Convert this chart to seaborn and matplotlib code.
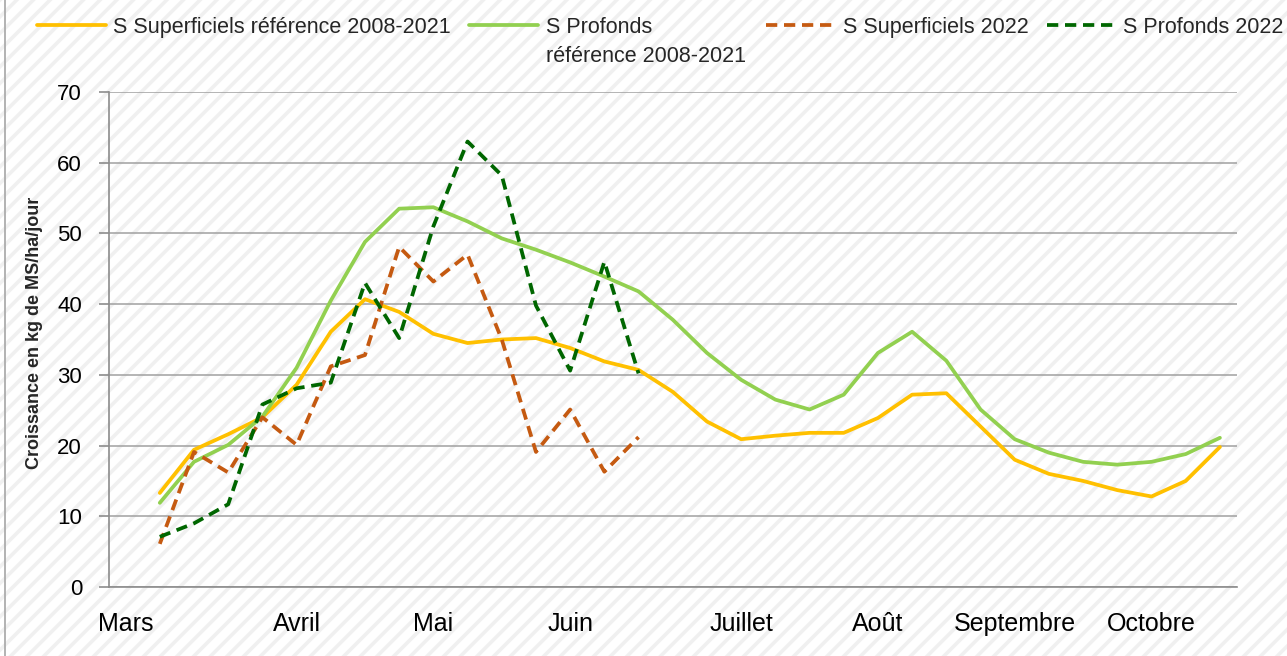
import numpy as np
import pandas as pd
import matplotlib
matplotlib.use("Agg")
import matplotlib.pyplot as plt
import seaborn as sns
from matplotlib.patches import Rectangle
from matplotlib.lines import Line2D


# DATA (une valeur par semaine, 1re categorie = debut mars vide)
mois = ['Mars', 'Avril', 'Mai', 'Juin', 'Juillet', 'Août', 'Septembre', 'Octobre']
pos_mois = [0, 5, 9, 13, 18, 22, 26, 30]
n_cat = 33

sup_ref = [13.3, 19.4, 21.6, 24.0, 28.6, 36.1, 40.7, 38.9, 35.8, 34.5, 35.0, 35.2,
           33.8, 31.9, 30.7, 27.6, 23.4, 20.9, 21.4, 21.8, 21.8, 23.9, 27.2, 27.4,
           22.7, 18.0, 16.0, 15.0, 13.7, 12.8, 15.0, 19.8]
prof_ref = [11.9, 17.7, 20.1, 24.1, 31.0, 40.5, 48.8, 53.5, 53.7, 51.7, 49.3, 47.7,
            45.9, 43.9, 41.8, 37.8, 33.1, 29.3, 26.5, 25.1, 27.2, 33.1, 36.1, 32.0,
            25.1, 20.9, 19.0, 17.7, 17.3, 17.7, 18.8, 21.1]
sup_2022 = [6.1, 19.1, 16.2, 24.0, 20.1, 31.2, 32.8, 48.1, 43.2, 47.0, 35.0, 19.1,
            25.1, 16.3, 21.2]
prof_2022 = [7.1, 9.0, 11.7, 25.8, 28.1, 28.9, 43.0, 35.2, 51.0, 63.0, 58.2, 39.8,
             30.6, 46.0, 30.2]

series = [
    ('S Superficiels référence 2008-2021', sup_ref, '#FFC000', '-'),
    ('S Profonds' + ' ' * 16, prof_ref, '#92D050', '-'),
    ('S Superficiels 2022', sup_2022, '#C55A11', '--'),
    ('S Profonds 2022', prof_2022, '#006600', '--'),
]


# STYLE
sns.set_style("white")
plt.rcParams['font.family'] = ['Liberation Sans', 'DejaVu Sans']
plt.rcParams['hatch.linewidth'] = 2.6
plt.rcParams['hatch.color'] = '#F0F0F0'

fig = plt.figure(figsize=(12.87, 6.56), dpi=100)

# fond hachure facon Excel
fond = Rectangle((0, 0), 1, 1, transform=fig.transFigure, facecolor='white',
                 edgecolor='#F0F0F0', hatch='//', linewidth=0, zorder=-10)
fig.patches.append(fond)
fig.add_artist(Line2D([0.004, 0.004], [0, 1], transform=fig.transFigure,
                      color='#A6A6A6', lw=1.2))

ax = fig.add_axes([108.5 / 1287, 69 / 656, 1128.5 / 1287, 495 / 656])
ax.set_facecolor('none')


# PLOT
for nom, vals, couleur, style in series:
    df = pd.DataFrame({'semaine': np.arange(1, len(vals) + 1), 'croissance': vals})
    sns.lineplot(data=df, x='semaine', y='croissance', ax=ax, color=couleur,
                 linewidth=2.7, label=nom, linestyle=style)

for ln in ax.get_lines():
    if ln.get_linestyle() == '--':
        ln.set_dashes((3.0, 1.8))

ax.set_xlim(-0.5, n_cat - 0.5)
ax.set_ylim(0, 70)
ax.set_yticks(range(0, 71, 10))
ax.set_xticks(pos_mois)
ax.set_xticklabels(mois)
ax.set_xticks(np.arange(-0.5, n_cat, 1), minor=True)
ax.tick_params(axis='x', which='major', length=0, pad=18, labelsize=18, labelcolor='black')
ax.tick_params(axis='x', which='minor', length=6, width=1.2, color='#8C8C8C', direction='out')
ax.tick_params(axis='y', length=7, width=1.2, color='#8C8C8C', pad=12, labelsize=16,
               labelcolor='black', left=True)

ax.grid(axis='y', color='#A0A0A0', linewidth=1.1)
ax.grid(axis='x', visible=False)
for s in ['top', 'right']:
    ax.spines[s].set_visible(False)
for s in ['left', 'bottom']:
    ax.spines[s].set_color('#8C8C8C')
    ax.spines[s].set_linewidth(1.2)

ax.set_xlabel('')
ax.set_ylabel('Croissance en kg de MS/ha/jour', fontsize=13, fontweight='bold')
ax.yaxis.set_label_coords(-0.058, 0.513)

# LEGENDE
ax.get_legend().remove()
handles, labels = ax.get_legend_handles_labels()
leg = fig.legend(handles, labels, loc='upper left', bbox_to_anchor=(37 / 1287, 1 - 17 / 656),
                 ncol=4, frameon=False, fontsize=15.5, handlelength=3.2,
                 handletextpad=0.35, columnspacing=0.85, borderpad=0, borderaxespad=0)
fig.canvas.draw()
bb = leg.get_texts()[1].get_window_extent()
fig.text(bb.x0 / 1287, (bb.y0 - 29) / 656, 'référence 2008-2021', fontsize=15.5,
         va='bottom', ha='left')

plt.savefig('out.png', dpi=100)
